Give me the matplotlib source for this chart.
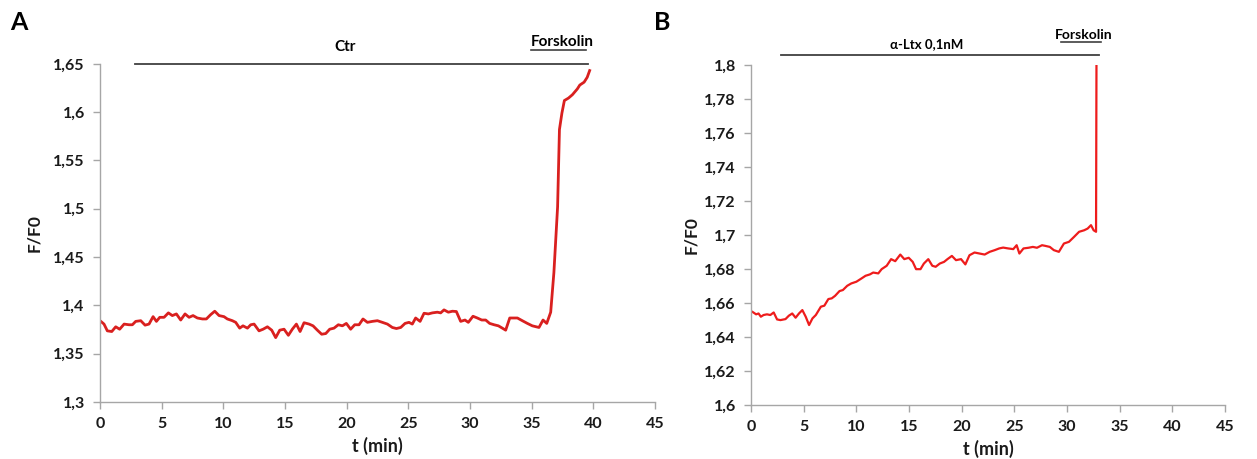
import matplotlib
matplotlib.use("Agg")
from matplotlib import pyplot as plt
from matplotlib.ticker import FuncFormatter

plt.rcParams['font.family'] = ['Lato', 'DejaVu Sans']
plt.rcParams['font.weight'] = 'bold'

# panel A: control, then forskolin
t_a = [0.00, 0.32, 0.59, 0.95, 1.27, 1.59, 1.95, 2.35, 2.62, 2.89, 3.30, 3.65, 3.97, 4.30,
       4.57, 4.84, 5.19, 5.54, 5.86, 6.19, 6.54, 6.89, 7.22, 7.54, 7.89, 8.30, 8.62, 8.97,
       9.30, 9.65, 10.05, 10.32, 10.73, 11.00, 11.32, 11.59, 11.95, 12.22, 12.49, 12.89,
       13.22, 13.57, 13.92, 14.24, 14.57, 14.92, 15.27, 15.59, 15.92, 16.22, 16.54, 16.95,
       17.27, 17.62, 17.97, 18.30, 18.62, 18.97, 19.32, 19.65, 19.97, 20.32, 20.65, 21.00,
       21.32, 21.68, 22.08, 22.49, 22.89, 23.30, 23.70, 24.03, 24.38, 24.73, 25.05, 25.32,
       25.59, 25.95, 26.27, 26.62, 26.95, 27.35, 27.62, 27.89, 28.24, 28.57, 28.89, 29.24,
       29.59, 29.86, 30.24, 30.59, 30.95, 31.27, 31.59, 31.95, 32.30, 32.62, 32.89, 33.22,
       33.57, 33.84, 34.24, 34.65, 35.05, 35.59, 35.92, 36.22, 36.54,
       36.8, 37.1, 37.25, 37.45, 37.65, 37.98, 38.3, 38.7, 38.9, 39.25, 39.5, 39.7]
f_a = [1.3842, 1.3807, 1.3737, 1.3730, 1.3779, 1.3754, 1.3807, 1.3800, 1.3800, 1.3835,
       1.3842, 1.3796, 1.3807, 1.3884, 1.3835, 1.3877, 1.3877, 1.3923, 1.3895, 1.3912,
       1.3849, 1.3912, 1.3877, 1.3895, 1.3870, 1.3860, 1.3860, 1.3905, 1.3940, 1.3895,
       1.3884, 1.3860, 1.3842, 1.3825, 1.3765, 1.3789, 1.3765, 1.3800, 1.3807, 1.3737,
       1.3754, 1.3779, 1.3744, 1.3667, 1.3744, 1.3754, 1.3691, 1.3754, 1.3807, 1.3730,
       1.3821, 1.3807, 1.3789, 1.3744, 1.3702, 1.3709, 1.3754, 1.3765, 1.3800, 1.3789,
       1.3814, 1.3754, 1.3800, 1.3800, 1.3860, 1.3825, 1.3835, 1.3842, 1.3825, 1.3807,
       1.3772, 1.3761, 1.3772, 1.3814, 1.3825, 1.3807, 1.3870, 1.3835, 1.3919, 1.3912,
       1.3923, 1.3930, 1.3923, 1.3954, 1.3930, 1.3940, 1.3937, 1.3835, 1.3849, 1.3825,
       1.3888, 1.3870, 1.3849, 1.3849, 1.3814, 1.3800, 1.3789, 1.3765, 1.3744, 1.3870,
       1.3870, 1.3870, 1.3842, 1.3814, 1.3789, 1.3772, 1.3849, 1.3814, 1.3930,
       1.434, 1.502, 1.582, 1.599, 1.612, 1.6145, 1.618, 1.624, 1.628, 1.631, 1.636, 1.643]

# panel B: alpha-latrotoxin 0.1 nM, then forskolin
t_b = [0.00, 0.22, 0.48, 0.71, 0.93, 1.19, 1.51, 1.83, 2.15, 2.47, 2.79, 3.27, 3.59, 3.91,
       4.23, 4.55, 4.87, 5.19, 5.51, 5.83, 6.15, 6.63, 6.96, 7.34, 7.66, 7.98, 8.40, 8.72,
       9.13, 9.52, 10.00, 10.48, 10.87, 11.28, 11.60, 12.08, 12.40, 12.88, 13.30, 13.69,
       14.17, 14.55, 14.97, 15.35, 15.67, 16.09, 16.41, 16.83, 17.21, 17.53, 17.92, 18.33,
       18.65, 19.07, 19.46, 19.94, 20.35, 20.74, 21.22, 21.70, 22.18, 22.66, 23.14, 23.56,
       23.94, 24.42, 24.90, 25.22, 25.48, 25.87, 26.35, 26.76, 27.15, 27.63, 27.95, 28.37,
       28.75, 29.23, 29.71, 30.19, 30.67, 31.15, 31.63, 31.96, 32.28, 32.53, 32.76, 32.80]
f_b = [1.6553, 1.6545, 1.6534, 1.6539, 1.6520, 1.6530, 1.6534, 1.6530, 1.6545, 1.6504,
       1.6500, 1.6506, 1.6526, 1.6539, 1.6514, 1.6539, 1.6559, 1.6520, 1.6471, 1.6510,
       1.6530, 1.6579, 1.6585, 1.6624, 1.6628, 1.6643, 1.6671, 1.6677, 1.6702, 1.6716,
       1.6726, 1.6745, 1.6761, 1.6769, 1.6780, 1.6775, 1.6800, 1.6820, 1.6859, 1.6847,
       1.6886, 1.6859, 1.6867, 1.6843, 1.6800, 1.6800, 1.6833, 1.6859, 1.6820, 1.6814,
       1.6833, 1.6843, 1.6859, 1.6878, 1.6853, 1.6859, 1.6828, 1.6882, 1.6898, 1.6892,
       1.6886, 1.6902, 1.6912, 1.6922, 1.6927, 1.6922, 1.6918, 1.6941, 1.6892, 1.6922,
       1.6926, 1.6931, 1.6926, 1.6941, 1.6937, 1.6931, 1.6912, 1.6902, 1.6951, 1.6961,
       1.6990, 1.7020, 1.7029, 1.7039, 1.7059, 1.7029, 1.7020, 1.8000]

x_ticks = [0, 5, 10, 15, 20, 25, 30, 35, 40, 45]
y_ticks_a = [1.3, 1.35, 1.4, 1.45, 1.5, 1.55, 1.6, 1.65]
y_ticks_b = [1.6, 1.62, 1.64, 1.66, 1.68, 1.7, 1.72, 1.74, 1.76, 1.78, 1.8]


def comma(v, pos):
    return ('%g' % round(v, 3)).replace('.', ',')


def style_axes(ax):
    for s in ['top', 'right']:
        ax.spines[s].set_visible(False)
    for s in ['left', 'bottom']:
        ax.spines[s].set_color('#a6a6a6')
        ax.spines[s].set_linewidth(1.0)
    ax.tick_params(direction='out', length=5, width=1, color='#a6a6a6',
                   labelsize=11.5, labelcolor='#1a1a1a', pad=6)
    ax.yaxis.set_major_formatter(FuncFormatter(comma))
    for lab in ax.get_xticklabels() + ax.get_yticklabels():
        lab.set_fontweight('bold')
    ax.set_xlabel('t (min)', fontsize=13, fontweight='bold', color='#1a1a1a', labelpad=4)
    ax.set_ylabel('F/F0', fontsize=12.5, fontweight='bold', color='#1a1a1a')


fig = plt.figure(figsize=(12.57, 4.59), dpi=100)

ax1 = fig.add_axes([0.0796, 0.124, 0.4415, 0.737])
ax1.plot(t_a, f_a, color='#d9201f', lw=2)
ax1.set_xlim(0, 45)
ax1.set_ylim(1.3, 1.65)
ax1.set_xticks(x_ticks)
ax1.set_yticks(y_ticks_a)
style_axes(ax1)
ax1.yaxis.set_label_coords(-0.105, 0.5)

# treatment bars, panel A
ax1.plot([2.8, 39.6], [1.65, 1.65], color='#404040', lw=1.3, clip_on=False)
ax1.text(19.9, 1.6675, 'Ctr', ha='center', va='center', fontsize=11, fontweight='bold')
ax1.plot([34.95, 39.4], [1.6645, 1.6645], color='#404040', lw=1.2, clip_on=False)
ax1.text(34.9, 1.6655, 'Forskolin', ha='left', va='bottom', fontsize=11, fontweight='bold')

ax2 = fig.add_axes([0.5975, 0.1176, 0.377, 0.740])
ax2.plot(t_b, f_b, color='#ee1c1c', lw=1.6)
ax2.set_xlim(0, 45)
ax2.set_ylim(1.6, 1.8)
ax2.set_xticks(x_ticks)
ax2.set_yticks(y_ticks_b)
style_axes(ax2)
ax2.yaxis.set_label_coords(-0.11, 0.5)

# treatment bars, panel B
ax2.plot([2.8, 33.0], [1.806, 1.806], color='#404040', lw=1.3, clip_on=False)
ax2.text(16.7, 1.8124, '\u03b1-Ltx 0,1nM', ha='center', va='center', fontsize=9.5, fontweight='bold')
ax2.plot([29.4, 33.2], [1.8135, 1.8135], color='#404040', lw=1.2, clip_on=False)
ax2.text(31.6, 1.8145, 'Forskolin', ha='center', va='bottom', fontsize=10, fontweight='bold')

fig.text(0.008, 0.95, 'A', fontsize=18, fontweight='bold', va='center')
fig.text(0.520, 0.95, 'B', fontsize=18, fontweight='bold', va='center')

fig.savefig('out.png', dpi=100)
